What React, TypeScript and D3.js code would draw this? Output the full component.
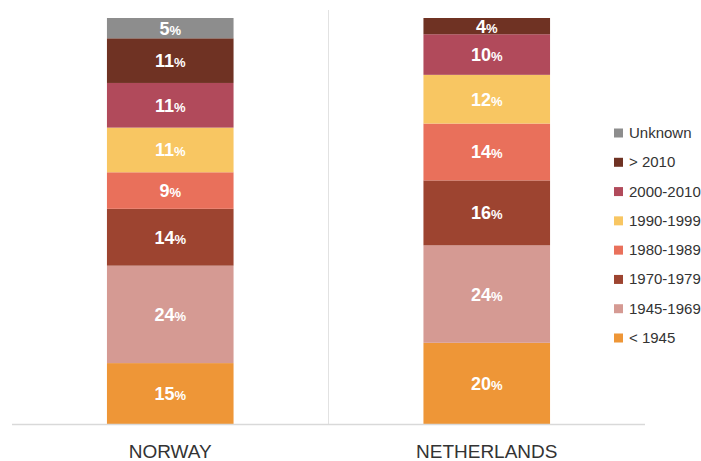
import React from "react";
import * as d3 from "d3";

const countries = ["NORWAY", "NETHERLANDS"];
const periods = ["< 1945", "1945-1969", "1970-1979", "1980-1989", "1990-1999", "2000-2010", "> 2010", "Unknown"];
const norway = [15, 24, 14, 9, 11, 11, 11, 5];
const netherlands = [20, 24, 16, 14, 12, 10, 4, 0];
const colors = ["#ee9637", "#d59a93", "#9d4430", "#e9705b", "#f8c662", "#b14a5b", "#6f3223", "#8d8d8d"];
const legendOrder = ["Unknown", "> 2010", "2000-2010", "1990-1999", "1980-1989", "1970-1979", "1945-1969", "< 1945"];

export default function App() {
  const W = 701, H = 461;
  const x0 = 12, x1 = 645, base = 424, top = 18;
  const x = d3.scaleBand().domain(countries).range([x0, x1]).padding(0);
  const y = d3.scaleLinear().domain([0, 100]).range([base, top]);
  const barW = x.bandwidth() * 0.4;
  const seriesByCountry: Record<string, number[]> = { NORWAY: norway, NETHERLANDS: netherlands };
  const rows = countries.map((c) => {
    const o: any = { country: c };
    periods.forEach((p, i) => (o[p] = seriesByCountry[c][i]));
    return o;
  });
  const stacked = d3.stack().keys(periods)(rows);
  const color = d3.scaleOrdinal<string, string>().domain(periods).range(colors);
  const legendY = d3.scalePoint().domain(legendOrder).range([133, 338]);
  const font = "'Liberation Sans', Arial, Helvetica, sans-serif";

  return (
    <svg width={W} height={H} style={{ position: "absolute", left: 0, top: 0, background: "#fff" }} fontFamily={font}>
      <line x1={x0 + x.bandwidth()} x2={x0 + x.bandwidth()} y1={10} y2={base} stroke="#e2e2e2" strokeWidth={1} />
      {stacked.map((layer) => (
        <g key={layer.key}>
          {layer.map((d, i) => {
            const c = countries[i];
            const v = d[1] - d[0];
            if (v <= 0) return null;
            const cx = (x(c) as number) + x.bandwidth() / 2;
            const yTop = y(d[1]);
            const yBot = y(d[0]);
            const cy = (yTop + yBot) / 2;
            return (
              <g key={c}>
                <rect x={cx - barW / 2} y={yTop} width={barW} height={yBot - yTop} fill={color(layer.key)} />
                <text x={cx} y={cy + 6.5} textAnchor="middle" fill="#fff" fontWeight="bold" fontSize={18}>
                  {v}
                  <tspan fontSize={13}>%</tspan>
                </text>
              </g>
            );
          })}
        </g>
      ))}
      <line x1={x0} x2={x1} y1={base + 0.5} y2={base + 0.5} stroke="#d9d9d9" strokeWidth={1.5} />
      {countries.map((c) => (
        <text key={c} x={(x(c) as number) + x.bandwidth() / 2} y={458} textAnchor="middle" fontSize={19} fill="#333">
          {c}
        </text>
      ))}
      {legendOrder.map((k) => (
        <g key={k} transform={`translate(614,${legendY(k)})`}>
          <rect x={0} y={-4.5} width={9} height={9} fill={color(k)} />
          <text x={15} y={5} fontSize={15} fill="#333">{k}</text>
        </g>
      ))}
    </svg>
  );
}
